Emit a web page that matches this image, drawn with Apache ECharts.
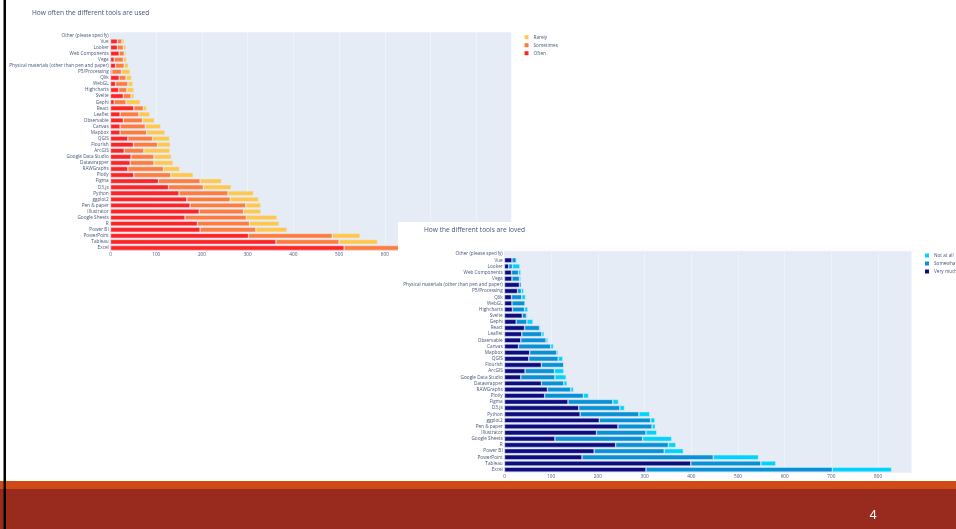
<!DOCTYPE html>
<html>
<head>
<meta charset="utf-8">
<script src="https://cdn.jsdelivr.net/npm/echarts@6/dist/echarts.min.js"></script>
<style>
html,body{margin:0;padding:0;background:#fff;}
#chart{width:956px;height:529px;}
</style>
</head>
<body>
<div id="chart"></div>
<script>
// Categories, top to bottom
const categories = ["Other (please specify)","Vue","Looker","Web Components","Vega",
  "Physical materials (other than pen and paper)","P5/Processing","Qlik","WebGL","Highcharts",
  "Svelte","Gephi","React","Leaflet","Observable","Canvas","Mapbox","QGIS","Flourish","ArcGIS",
  "Google Data Studio","Datawrapper","RAWGraphs","Plotly","Figma","D3.js","Python","ggplot2",
  "Pen & paper","Illustrator","Google Sheets","R","Power BI","PowerPoint","Tableau","Excel"];

// Chart 1: How often the different tools are used
const usedOften     = [0,15,15,19,8,11,3,19,11,18,28,8,51,21,28,21,21,38,50,30,45,43,38,51,105,127,150,167,174,194,163,190,196,302,362,511];
const usedSometimes = [0,10,13,11,20,19,21,15,27,18,17,26,21,41,42,55,58,54,53,43,50,52,78,81,91,76,107,95,122,97,134,114,122,183,138,250];
const usedRarely    = [0,5,6,4,7,9,19,12,11,15,7,31,7,24,26,34,40,37,28,57,38,42,35,49,47,61,56,62,33,38,67,65,68,61,84,73];

// Chart 2: How the different tools are loved
const lovedVeryMuch = [0,16,9,15,16,32,28,15,16,17,38,25,43,37,35,30,54,52,79,44,35,79,92,86,136,159,162,203,243,197,108,238,192,166,399,303];
const lovedSomewhat = [0,9,8,15,16,4,8,22,28,26,9,23,32,43,54,69,58,63,48,63,73,48,50,83,96,88,126,110,73,106,188,113,150,281,150,399];
const lovedNotAtAll = [0,2,16,5,3,1,5,8,1,7,2,13,2,5,4,6,3,10,1,20,24,7,6,11,12,10,23,9,7,23,62,16,41,97,32,127];

const xTicks = [0,100,200,300,400,500,600,700,800];

const txt = '#44557a';
const font = 'Open Sans';
const tick = 4.7;

function xAxisFor(gi, max, z) {
  return {
    type: 'value', gridIndex: gi, min: 0, max: max, interval: 100, z: z,
    axisLine: {show: false}, axisTick: {show: false},
    axisLabel: {color: txt, fontSize: tick, fontFamily: font, margin: 1.5, showMaxLabel: false,
      formatter: v => (xTicks.indexOf(v) >= 0 ? String(v) : '')},
    splitLine: {show: true, lineStyle: {color: '#f4f7fb', width: 0.6}}
  };
}
function yAxisFor(gi, z) {
  return {
    type: 'category', gridIndex: gi, data: categories, inverse: true, z: z,
    axisLine: {show: false}, axisTick: {show: false}, splitLine: {show: false},
    axisLabel: {color: txt, fontSize: tick, fontFamily: font, margin: 1.8, interval: 0}
  };
}
function barSeries(name, data, color, gi, stack, z) {
  return {
    name: name, type: 'bar', stack: stack, xAxisIndex: gi, yAxisIndex: gi, data: data, z: z,
    barCategoryGap: '20%',
    itemStyle: {color: color, borderColor: '#e5ecf6', borderWidth: 0.5},
    emphasis: {disabled: true}
  };
}
const legendBase = {
  orient: 'vertical', padding: 0, itemWidth: 4, itemHeight: 4, itemGap: 3, icon: 'rect',
  selectedMode: false, itemStyle: {borderWidth: 0},
  textStyle: {color: txt, fontSize: tick, fontFamily: font, lineHeight: 4}
};

const chart = echarts.init(document.getElementById('chart'), null, {renderer: 'canvas'});
chart.setOption({
  animation: false,
  backgroundColor: '#ffffff',
  textStyle: {fontFamily: font},
  title: [
    {text: 'How often the different tools are used', left: 32, top: 9.5, padding: 0, z: 2,
     textStyle: {color: txt, fontSize: 6.6, fontWeight: 'normal', fontFamily: font}},
    {text: 'How the different tools are loved', left: 424, top: 227, padding: 0, z: 13,
     textStyle: {color: txt, fontSize: 6.6, fontWeight: 'normal', fontFamily: font}}
  ],
  legend: [
    Object.assign({}, legendBase, {data: ['Rarely','Sometimes','Often'], left: 524.5, top: 34.7, z: 2}),
    Object.assign({}, legendBase, {data: ['Not at all','Somewhat','Very much'], left: 925, top: 253, z: 13})
  ],
  grid: [
    {left: 110.5, top: 32.3, width: 400.5, height: 218.7, show: true, backgroundColor: '#e5ecf6', borderWidth: 0, z: 0},
    {left: 504.5, top: 251, width: 407.2, height: 221.7, show: true, backgroundColor: '#e5ecf6', borderWidth: 0, z: 11}
  ],
  xAxis: [xAxisFor(0, 876, 1), xAxisFor(1, 872, 12)],
  yAxis: [yAxisFor(0, 1), yAxisFor(1, 12)],
  series: [
    barSeries('Often', usedOften, '#ff2323', 0, 'used', 2),
    barSeries('Sometimes', usedSometimes, '#ff7c3c', 0, 'used', 2),
    barSeries('Rarely', usedRarely, '#ffc84c', 0, 'used', 2),
    barSeries('Very much', lovedVeryMuch, '#0d0d80', 1, 'loved', 13),
    barSeries('Somewhat', lovedSomewhat, '#0891d6', 1, 'loved', 13),
    barSeries('Not at all', lovedNotAtAll, '#00d4fc', 1, 'loved', 13)
  ],
  graphic: [
    {type: 'rect', z: 10, silent: true, shape: {x: 398, y: 222, width: 558, height: 307}, style: {fill: '#ffffff'}},
    {type: 'rect', z: 30, silent: true, shape: {x: 0, y: 481, width: 956, height: 8}, style: {fill: '#d04a18'}},
    {type: 'rect', z: 30, silent: true, shape: {x: 0, y: 489, width: 956, height: 40}, style: {fill: '#992b1e'}},
    {type: 'rect', z: 31, silent: true, shape: {x: 3.5, y: 0, width: 2.5, height: 529}, style: {fill: '#000000'}},
    {type: 'text', z: 31, silent: true, x: 873, y: 515,
     style: {text: '4', fill: '#ffffff', fontSize: 13, fontFamily: 'Liberation Sans Narrow, Liberation Sans', align: 'center', verticalAlign: 'middle'}}
  ]
});
</script>
</body>
</html>
